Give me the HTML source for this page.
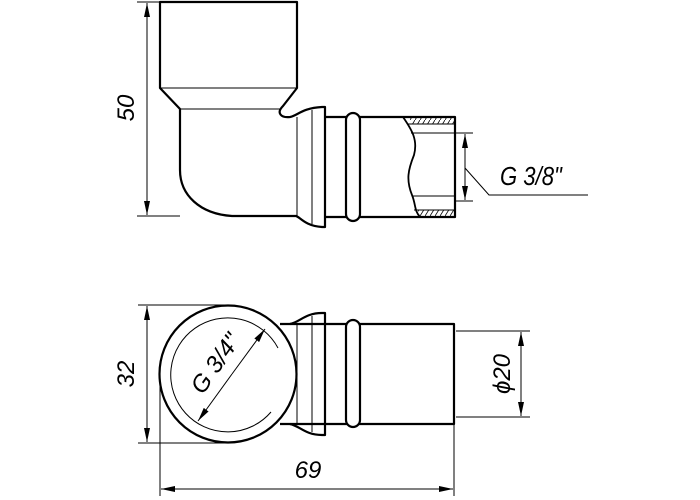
<!DOCTYPE html>
<html><head><style>html,body{margin:0;padding:0;background:#fff;}svg{display:block}</style></head>
<body>
<svg width="700" height="500" viewBox="0 0 700 500" xmlns="http://www.w3.org/2000/svg" font-family="Liberation Sans, sans-serif">
<defs>
<marker id="a" viewBox="0 0 14 6" refX="14" refY="3" markerWidth="14" markerHeight="6" orient="auto" markerUnits="userSpaceOnUse"><path d="M0,0 L14,3 L0,6 Z" fill="#000"/></marker>
<pattern id="h" width="5" height="8" patternUnits="userSpaceOnUse"><line x1="0" y1="8" x2="5" y2="0" stroke="#000" stroke-width="0.8"/></pattern>
</defs>
<g fill="none" stroke="#000" stroke-width="2.2" stroke-linejoin="round">
<path d="M160,2 H297 V88 L283,106 C276,113 281,118 290,117 C297,116 302,108 322,107 L325,107 V227 L322,227 C305,226 300,217 296,216 H232 C200,214 180,195 180,170 V109 L160,88 Z"/>
<path d="M325,117 H455 V217 H325"/>
<rect x="346" y="113" width="14" height="108" rx="7" fill="#fff"/>
<path d="M403,117 C412,130 418,140 414,155 C408,170 406,180 412,195 C416,205 414,210 420,217" stroke-width="1.8"/>
</g>
<g stroke="#000" stroke-width="1" fill="none">
<line x1="160" y1="88" x2="297" y2="88"/>
<line x1="180" y1="109" x2="281" y2="109"/>
<line x1="297" y1="117" x2="297" y2="216"/>
<line x1="312" y1="110" x2="312" y2="224"/>
<rect x="410" y="118" width="44" height="6" fill="url(#h)" stroke="none"/>
<rect x="418" y="210" width="36" height="6" fill="url(#h)" stroke="none"/>
<line x1="407" y1="124" x2="455" y2="124"/>
<line x1="414" y1="210" x2="455" y2="210"/>
<line x1="411" y1="133" x2="473" y2="133"/>
<line x1="412" y1="196" x2="455" y2="196"/>
<line x1="455" y1="201" x2="473" y2="201"/>
<line x1="137" y1="2" x2="160" y2="2"/>
<line x1="137" y1="216" x2="180" y2="216"/>
<line x1="147" y1="108" x2="147" y2="3" marker-end="url(#a)"/>
<line x1="147" y1="108" x2="147" y2="215" marker-end="url(#a)"/>
<line x1="465" y1="168" x2="465" y2="134" marker-end="url(#a)"/>
<line x1="465" y1="168" x2="465" y2="200" marker-end="url(#a)"/>
<polyline points="465,168 489,195 588,195"/>
</g>
<text x="0" y="185" font-size="26" font-style="italic" transform="translate(500 0) scale(0.85 1)">G 3/8"</text>
<text transform="translate(134 108) rotate(-90)" font-size="24" font-style="italic" text-anchor="middle">50</text>
<g fill="none" stroke="#000" stroke-width="2.2" stroke-linejoin="round">
<path d="M290,324 C300,322 305,313 322,313 L325,313 V435 L322,435 C305,435 300,426 290,424"/>
<path d="M280,324 H454 V424 H280"/>
<rect x="346" y="320" width="14" height="107" rx="7" fill="#fff"/>
<circle cx="228" cy="374" r="68.5" fill="#fff"/>
</g>
<g stroke="#000" stroke-width="1" fill="none">
<path d="M271,412 A57,57 0 1 1 278,348"/>
<line x1="297" y1="324" x2="297" y2="424"/>
<line x1="312" y1="316" x2="312" y2="432"/>
<line x1="232" y1="374" x2="265" y2="329" marker-end="url(#a)"/>
<line x1="232" y1="374" x2="198" y2="421" marker-end="url(#a)"/>
<line x1="138" y1="305" x2="228" y2="305"/>
<line x1="138" y1="443" x2="228" y2="443"/>
<line x1="147" y1="374" x2="147" y2="306" marker-end="url(#a)"/>
<line x1="147" y1="374" x2="147" y2="442" marker-end="url(#a)"/>
<line x1="456" y1="331" x2="530" y2="331"/>
<line x1="456" y1="417" x2="530" y2="417"/>
<line x1="521" y1="374" x2="521" y2="332" marker-end="url(#a)"/>
<line x1="521" y1="374" x2="521" y2="416" marker-end="url(#a)"/>
<line x1="160" y1="374" x2="160" y2="496"/>
<line x1="454" y1="424" x2="454" y2="496"/>
<line x1="307" y1="489" x2="161" y2="489" marker-end="url(#a)"/>
<line x1="307" y1="489" x2="453" y2="489" marker-end="url(#a)"/>
</g>
<text transform="translate(134 374) rotate(-90)" font-size="24" font-style="italic" text-anchor="middle">32</text>
<text transform="translate(510 374) rotate(-90)" font-size="24" font-style="italic" text-anchor="middle">ϕ20</text>
<text x="308" y="478" font-size="24" font-style="italic" text-anchor="middle">69</text>
<text transform="translate(222 368) rotate(-55)" font-size="24" font-style="italic" text-anchor="middle">G 3/4"</text>
</svg>
</body></html>
